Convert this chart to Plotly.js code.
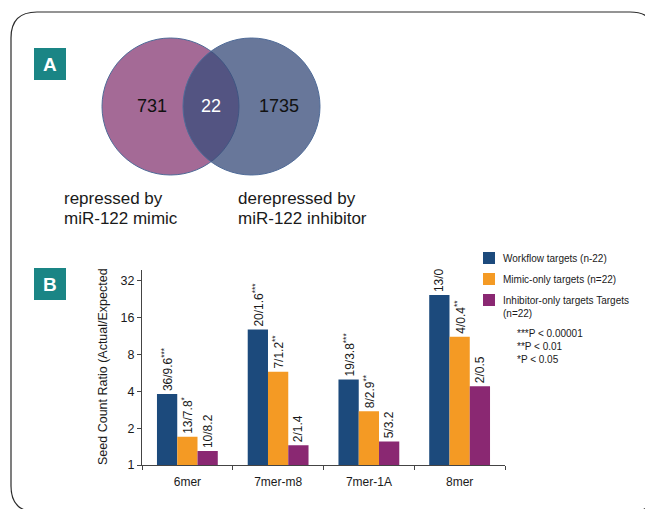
<!DOCTYPE html>
<html>
<head>
<meta charset="utf-8">
<script src="https://cdn.plot.ly/plotly-3.0.1.min.js"></script>
<style>
html,body{margin:0;padding:0;background:#fff;}
#chart{width:645px;height:509px;}
</style>
</head>
<body>
<div id="chart"></div>
<script>
// ---- Panel A: Venn data ----
const vennCounts = [731, 22, 1735];
const vennSetLabels = [['repressed by', 'miR-122 mimic'], ['derepressed by', 'miR-122 inhibitor']];

// ---- Panel B: bar data ----
const categories = ['6mer', '7mer-m8', '7mer-1A', '8mer'];
const seriesNames = ['Workflow targets (n-22)', 'Mimic-only targets (n=22)', 'Inhibitor-only targets Targets<br>(n=22)'];
const workflowRatio = [3.8, 12.8, 5.0, 24.5];
const mimicRatio = [1.7, 5.8, 2.75, 11.2];
const inhibitorRatio = [1.3, 1.45, 1.56, 4.4];
const workflowCounts = ['36/9.6', '20/1.6', '19/3.8', '13/0'];
const workflowStars = ['***', '***', '***', ''];
const mimicCounts = ['13/7.8', '7/1.2', '8/2.9', '4/0.4'];
const mimicStars = ['*', '**', '**', '**'];
const inhibitorCounts = ['10/8.2', '2/1.4', '5/3.2', '2/0.5'];
const inhibitorStars = ['', '', '', ''];
const yTicks = [1, 2, 4, 8, 16, 32];
const pNotes = ['***P < 0.00001', '**P < 0.01', '*P < 0.05'];

const colors = ['#1c4a7c', '#f49a24', '#8a2872'];
const FONT = 'Liberation Sans, Arial, sans-serif';

function lbl(c, s) { return s ? c + '<sup>' + s + '</sup>' : c; }

const W = 645, H = 509;
const seriesVals = [workflowRatio, mimicRatio, inhibitorRatio];
const seriesText = [
  workflowCounts.map((c, i) => lbl(c, workflowStars[i])),
  mimicCounts.map((c, i) => lbl(c, mimicStars[i])),
  inhibitorCounts.map((c, i) => lbl(c, inhibitorStars[i]))
];

const traces = seriesVals.map((vals, k) => ({
  type: 'bar',
  x: categories,
  y: vals,
  name: seriesNames[k],
  text: seriesText[k],
  textposition: 'outside',
  textangle: -90,
  constraintext: 'none',
  cliponaxis: false,
  textfont: {family: FONT, size: 12, color: '#1a1a1a'},
  marker: {color: colors[k], line: {width: 0}},
  showlegend: false,
  hoverinfo: 'skip',
  xaxis: 'x', yaxis: 'y'
}));

// Venn counts drawn as text trace on pixel-like axes
const vennX = [152, 211, 279];
traces.push({
  type: 'scatter', mode: 'text',
  x: vennX, y: [107, 107, 107],
  text: vennCounts.map(String),
  textfont: {family: FONT, size: 18, color: ['#111', '#ffffff', '#111']},
  showlegend: false, hoverinfo: 'skip', cliponaxis: false,
  xaxis: 'x2', yaxis: 'y2'
});

const shapes = [];
// outer rounded frame
const fx0 = 11, fy0 = 12, fx1 = 656, fy1 = 512, r = 26;
shapes.push({
  type: 'path', xref: 'x2', yref: 'y2',
  path: `M ${fx0+r},${fy0} L ${fx1-r},${fy0} Q ${fx1},${fy0} ${fx1},${fy0+r} L ${fx1},${fy1-r} Q ${fx1},${fy1} ${fx1-r},${fy1} L ${fx0+r},${fy1} Q ${fx0},${fy1} ${fx0},${fy1-r} L ${fx0},${fy0+r} Q ${fx0},${fy0} ${fx0+r},${fy0} Z`,
  line: {color: '#2a2a2a', width: 1.2}, fillcolor: 'rgba(0,0,0,0)', layer: 'below'
});
// Venn circles
shapes.push({type: 'circle', xref: 'x2', yref: 'y2', x0: 102, x1: 239, y0: 38, y1: 175,
  fillcolor: '#a46a96', line: {color: '#4f6b98', width: 1}, layer: 'below'});
shapes.push({type: 'circle', xref: 'x2', yref: 'y2', x0: 183, x1: 320, y0: 38, y1: 175,
  fillcolor: 'rgba(58,78,124,0.77)', line: {color: '#4f6b98', width: 1}, layer: 'below'});
// panel label boxes
[[34, 48], [34, 268]].forEach(([bx, by]) => {
  shapes.push({type: 'rect', xref: 'x2', yref: 'y2', x0: bx, x1: bx + 32, y0: by, y1: by + 32,
    fillcolor: '#1a8585', line: {width: 0}});
});
// custom legend swatches
const legY = [258, 279, 300];
legY.forEach((ly, k) => {
  shapes.push({type: 'rect', xref: 'x2', yref: 'y2', x0: 483, x1: 495, y0: ly - 6, y1: ly + 6,
    fillcolor: colors[k], line: {width: 0}});
});

const annotations = [];
annotations.push({xref: 'x2', yref: 'y2', x: 50, y: 64, text: '<b>A</b>', showarrow: false,
  font: {family: FONT, size: 19, color: '#fff'}});
annotations.push({xref: 'x2', yref: 'y2', x: 50, y: 284, text: '<b>B</b>', showarrow: false,
  font: {family: FONT, size: 19, color: '#fff'}});
const setX = [62, 236];
vennSetLabels.forEach((lines, k) => {
  lines.forEach((t, j) => {
    annotations.push({xref: 'x2', yref: 'y2', x: setX[k], y: 198 + j * 20, xanchor: 'left', yanchor: 'middle',
      text: t, showarrow: false, font: {family: FONT, size: 17, color: '#1a1a1a'}});
  });
});
// y-axis title
annotations.push({xref: 'x2', yref: 'y2', x: 103, y: 367, textangle: -90,
  text: 'Seed Count Ratio (Actual/Expected', showarrow: false,
  font: {family: FONT, size: 12.5, color: '#1a1a1a'}});
// legend texts
annotations.push({xref: 'x2', yref: 'y2', x: 501, y: legY[0], xanchor: 'left', yanchor: 'middle',
  text: seriesNames[0], showarrow: false, font: {family: FONT, size: 10, color: '#1a1a1a'}});
annotations.push({xref: 'x2', yref: 'y2', x: 501, y: legY[1], xanchor: 'left', yanchor: 'middle',
  text: seriesNames[1], showarrow: false, font: {family: FONT, size: 10, color: '#1a1a1a'}});
annotations.push({xref: 'x2', yref: 'y2', x: 501, y: legY[2] - 7, xanchor: 'left', yanchor: 'top', align: 'left',
  text: seriesNames[2], showarrow: false, font: {family: FONT, size: 10, color: '#1a1a1a'}});
annotations.push({xref: 'x2', yref: 'y2', x: 515, y: 326, xanchor: 'left', yanchor: 'top', align: 'left',
  text: pNotes.join('<br>'), showarrow: false, font: {family: FONT, size: 10, color: '#1a1a1a'}});

const layout = {
  width: W, height: H,
  margin: {l: 0, r: 0, t: 0, b: 0, pad: 0},
  paper_bgcolor: '#ffffff', plot_bgcolor: 'rgba(0,0,0,0)',
  showlegend: false,
  barmode: 'group', bargap: 0.33, bargroupgap: 0,
  font: {family: FONT, color: '#1a1a1a'},
  xaxis: {
    type: 'category', domain: [142 / W, 505 / W], range: [-0.5, 3.5],
    showline: true, linecolor: '#444', linewidth: 1,
    ticks: 'outside', tickson: 'boundaries', ticklen: 4, tickcolor: '#444',
    showgrid: false, zeroline: false, ticklabelstandoff: 6,
    tickfont: {family: FONT, size: 12, color: '#1a1a1a'},
    anchor: 'y', fixedrange: true
  },
  yaxis: {
    type: 'log', domain: [1 - 465 / H, 1 - 270 / H], range: [0, Math.log10(39.3)],
    tickvals: yTicks, ticktext: yTicks.map(String),
    showline: true, linecolor: '#444', linewidth: 1,
    ticks: 'outside', ticklen: 4, tickcolor: '#444',
    showgrid: false, zeroline: false,
    tickfont: {family: FONT, size: 12.5, color: '#1a1a1a'},
    anchor: 'x', fixedrange: true
  },
  xaxis2: {domain: [0, 1], range: [0, W], visible: false, anchor: 'y2', fixedrange: true},
  yaxis2: {domain: [0, 1], range: [H, 0], visible: false, anchor: 'x2', fixedrange: true},
  shapes: shapes,
  annotations: annotations
};

Plotly.newPlot('chart', traces, layout, {staticPlot: true, displayModeBar: false});
</script>
</body>
</html>
